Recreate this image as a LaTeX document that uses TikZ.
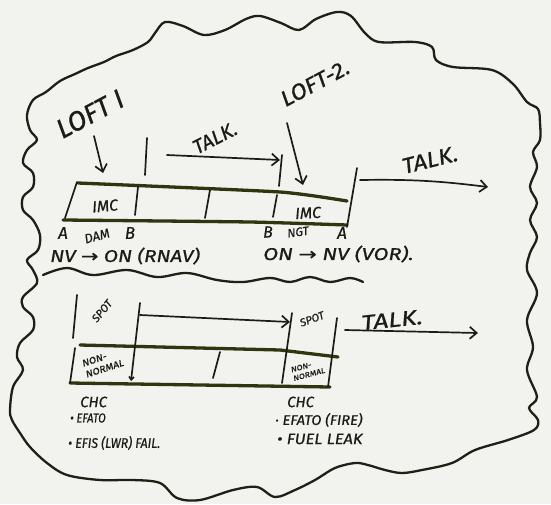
\documentclass[tikz,border=0pt]{standalone}
\usepackage{fontspec}
\setmainfont{Fira Sans}[ItalicFeatures={FakeBold=0.7}]
\newfontfamily\symfont{DejaVu Sans}[FakeBold=0.7]
\usetikzlibrary{arrows.meta}
\definecolor{board}{RGB}{242,243,238}
\definecolor{ink}{RGB}{26,28,22}
\definecolor{olive}{RGB}{46,54,16}
\newcommand{\ra}{{\symfont\char"2192}}
\begin{document}
\begin{tikzpicture}[x=1pt,y=-1pt,
  pen/.style={draw=ink, line width=1.7pt, line cap=round, line join=round},
  barline/.style={draw=olive, line width=3.3pt, line cap=round},
  wave/.style={draw=ink!85!olive, line width=2.3pt, line cap=round, line join=round},
  arr/.style={pen, -{Straight Barb[length=7pt,width=12pt]}},
  smallarr/.style={pen, -{Straight Barb[length=3pt,width=5pt]}},
  txt/.style={text=ink, inner sep=0pt, font=\itshape\fontsize{#1}{#1}\selectfont},
  tiny/.style 2 args={text=ink, inner sep=0pt, align=left, font=\itshape\fontsize{#1}{#2}\selectfont},
]
% board
\fill[board] (0,0) rectangle (551,504);
\path[use as bounding box] (0,0) rectangle (551,504);

% outer cloud outline
\draw[wave] plot[smooth cycle, tension=0.55] coordinates {
  (30,130) (27,115) (33,100) (46,92) (60,81) (75,74) (88,68) (104,62)
  (116,56) (133,50) (148,42) (155,33) (165,22) (183,26) (204,35) (225,30)
  (246,19) (260,16) (281,23) (299,30) (316,19) (337,12) (351,16) (365,33)
  (379,42) (415,42) (432,47) (436,60) (453,67) (492,70) (513,84) (527,102)
  (538,109) (540,123) (540,140) (533,152) (537,167) (530,187) (537,203)
  (530,220) (537,237) (530,253) (527,270) (537,293) (527,320) (533,347)
  (527,370) (537,397) (529,408) (538,420) (534,430) (508,440) (475,450)
  (452,463) (422,470) (402,473) (385,470) (368,465) (355,463) (335,468)
  (315,480) (295,490) (275,497) (257,487) (233,490) (200,500) (177,498)
  (160,483) (133,480) (100,480) (67,475) (47,463) (30,447) (20,433)
  (12,420) (10,410) (13,387) (23,370) (17,357) (20,343) (33,330) (33,317)
  (23,307) (23,297) (37,283) (33,270) (27,260) (38,250) (40,235) (33,220)
  (23,210) (23,197) (33,187) (33,173) (23,163) (27,150) (37,140)};

% divider between the two halves
\draw[wave] plot[smooth, tension=0.6] coordinates {
  (43,275) (67,268) (93,275) (127,270) (157,277) (187,273) (217,280)
  (243,282) (270,278) (290,282) (310,277) (330,282) (350,278) (363,282)};

% ---------- upper timeline ----------
\coordinate (t1a) at (78,183);  \coordinate (t1m) at (280,192); \coordinate (t1b) at (347,201);
\coordinate (b1a) at (63,220);  \coordinate (b1m) at (250,222); \coordinate (b1b) at (347,225);
\draw[barline] plot[smooth, tension=0.3] coordinates {(t1a) (t1m) (t1b)};
\draw[barline] plot[smooth, tension=0.3] coordinates {(b1a) (b1m) (b1b)};
\draw[pen] (77,182) -- (65,218);
\draw[pen] (138,187) -- (135,215);
\draw[pen] (210,190) -- (205,218);
\draw[pen] (277,195) -- (273,217);
\draw[pen] (357,168) -- (347,227);
\draw[pen] (147,138) -- (145,175);
\draw[pen] (282,155) -- (279,186);

\node[txt=27, rotate=28] (loft1) at (90,114) {LOFT I};
\coordinate (l1s) at (94,136); \coordinate (l1e) at (103,173);
\draw[arr] (l1s) -- (l1e);

\node[txt=20, rotate=27] (talk1) at (215,138) {TALK.};
\coordinate (k1s) at (167,155); \coordinate (k1e) at (280,160);
\draw[arr] (k1s) -- (k1e);

\node[txt=22, rotate=28, xscale=1.08] (loft2) at (315,83) {LOFT-2.};
\coordinate (l2s) at (287,123); \coordinate (l2e) at (303,185);
\draw[arr] (l2s) -- (l2e);

\node[txt=22, rotate=14, xscale=1.1] (talk2) at (430,160) {TALK.};
\coordinate (k2s) at (360,180); \coordinate (k2e) at (488,187);
\draw[arr] (k2s) to[bend left=4] (k2e);

\node[txt=16, rotate=5] (imc1) at (105,206) {IMC};
\node[txt=16, rotate=3] (imc2) at (308,213) {IMC};

\node[txt=17] (a1) at (63,233) {A};
\node[txt=13, rotate=15] (dam) at (97,236) {DAM};
\node[txt=17] (b1) at (130,233) {B};
\node[txt=17, xscale=1.22, anchor=west] (nv1) at (50,256) {NV \ra\ ON (RNAV)};

\node[txt=16] (b2) at (268,232) {B};
\node[txt=12, rotate=8] (ngt) at (298,232) {NGT};
\node[txt=17] (a2) at (342,233) {A};
\node[txt=17, xscale=1.28, anchor=west] (on2) at (263,254) {ON \ra\ NV (VOR).};

% ---------- lower timeline ----------
\draw[barline] (80,345) -- (280,350) -- (338,357);
\draw[barline] (70,383) -- (330,387);
\draw[pen] (75,348) -- (70,383);
\draw[pen] (220,352) -- (213,378);
\draw[pen] (77,295) -- (73,338);
\draw[smallarr] (140,303) -- (131,381);
\draw[pen] (292,313) -- (282,383);
\draw[pen] (337,318) -- (328,387);

\node[txt=11, rotate=50] (spot1) at (102,311) {SPOT};
\node[txt=11, rotate=20] (spot2) at (312,319) {SPOT};

\coordinate (s1s) at (140,315); \coordinate (s1e) at (290,322);
\draw[arr] (s1s) -- (s1e);

\node[tiny={9.5}{11.5}, rotate=18, xscale=1.1] (nn1) at (103,363) {NON-\\NORMAL};
\node[tiny={7.5}{9}, rotate=15, xscale=1.15] (nn2) at (308,370) {NON-\\NORMAL};

\node[txt=21, rotate=6, xscale=1.25] (talk3) at (392,320) {TALK.};
\coordinate (k3s) at (345,330); \coordinate (k3e) at (478,333);
\draw[arr] (k3s) -- (k3e);

% checklist notes
\node[txt=15, anchor=west] (chc1) at (80,402) {CHC};
\node[txt=13, xscale=0.85, anchor=west] (ef1) at (70,418) {• EFATO};
\node[txt=14, xscale=0.88, anchor=west] (ef2) at (68,443) {• EFIS (LWR) FAIL.};
\node[txt=15, anchor=west] (chc2) at (287,402) {CHC};
\node[txt=14, xscale=1.05, anchor=west] (ef3) at (275,420) {· EFATO (FIRE)};
\node[txt=15, xscale=1.1, anchor=west] (fl) at (277,439) {• FUEL LEAK};
\end{tikzpicture}
\end{document}
